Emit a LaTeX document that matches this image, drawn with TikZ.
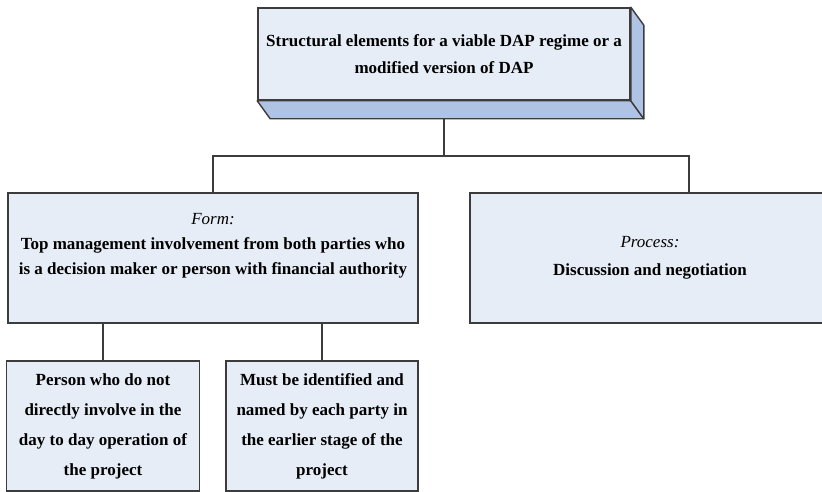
\documentclass[tikz,border=0pt]{standalone}
\usepackage{fontspec}
\setmainfont{Liberation Serif}
\usetikzlibrary{calc}
\definecolor{boxfill}{HTML}{E7EDF7}
\definecolor{bevelfill}{HTML}{AFC4E4}
\definecolor{edgegray}{HTML}{3C3C3C}
\begin{document}
\begin{tikzpicture}[x=1pt, y=-1pt,
  block/.style={draw=edgegray, line width=1.6pt, fill=boxfill, align=center,
                inner sep=0pt, font=\bfseries\fontsize{17}{25}\selectfont},
  bevel/.style={draw=edgegray, line width=1.4pt, fill=bevelfill, line join=round},
  link/.style={draw=edgegray, line width=1.6pt}
]
\clip (0,0) rectangle (822,492);
\node[block, minimum width=372pt, minimum height=92pt,
      font=\bfseries\fontsize{17}{27}\selectfont] (top) at (444,54)
  {Structural elements for a viable DAP regime or a\\modified version of DAP};
\filldraw[bevel] (top.south west) -- (top.south east) -- ($(top.south east)+(13,18)$)
  -- ($(top.south west)+(13,18)$) -- cycle;
\filldraw[bevel] (top.north east) -- ($(top.north east)+(13,18)$)
  -- ($(top.south east)+(13,18)$) -- (top.south east) -- cycle;
\coordinate (topfoot) at ($(top.south)+(0,18)$);
\node[block, minimum width=410pt, minimum height=130pt] (form) at (213,258)
  {{\mdseries\itshape Form:}\\Top management involvement from both parties who\\
   is a decision maker or person with financial authority\\[4pt]};
\node[block, minimum width=360pt, minimum height=130pt,
      font=\bfseries\fontsize{17}{28}\selectfont] (process) at (650,258)
  {{\mdseries\itshape Process:}\\Discussion and negotiation};
\coordinate (processtop) at ($(process.north)+(39,0)$);
\node[block, minimum width=193pt, minimum height=130pt,
      font=\bfseries\fontsize{17}{30}\selectfont] (person) at (103,426)
  {Person who do not\\directly involve in the\\day to day operation of\\the project};
\node[block, minimum width=192pt, minimum height=130pt,
      font=\bfseries\fontsize{17}{30}\selectfont] (named) at (322,426)
  {Must be identified and\\named by each party in\\the earlier stage of the\\project};
\coordinate (bus) at (topfoot |- 0,156);
\draw[link] (topfoot) -- (bus);
\draw[link] (form.north) |- (bus) -| (processtop);
\draw[link] (person.north) -- (person.north |- form.south);
\draw[link] (named.north) -- (named.north |- form.south);
\end{tikzpicture}
\end{document}
